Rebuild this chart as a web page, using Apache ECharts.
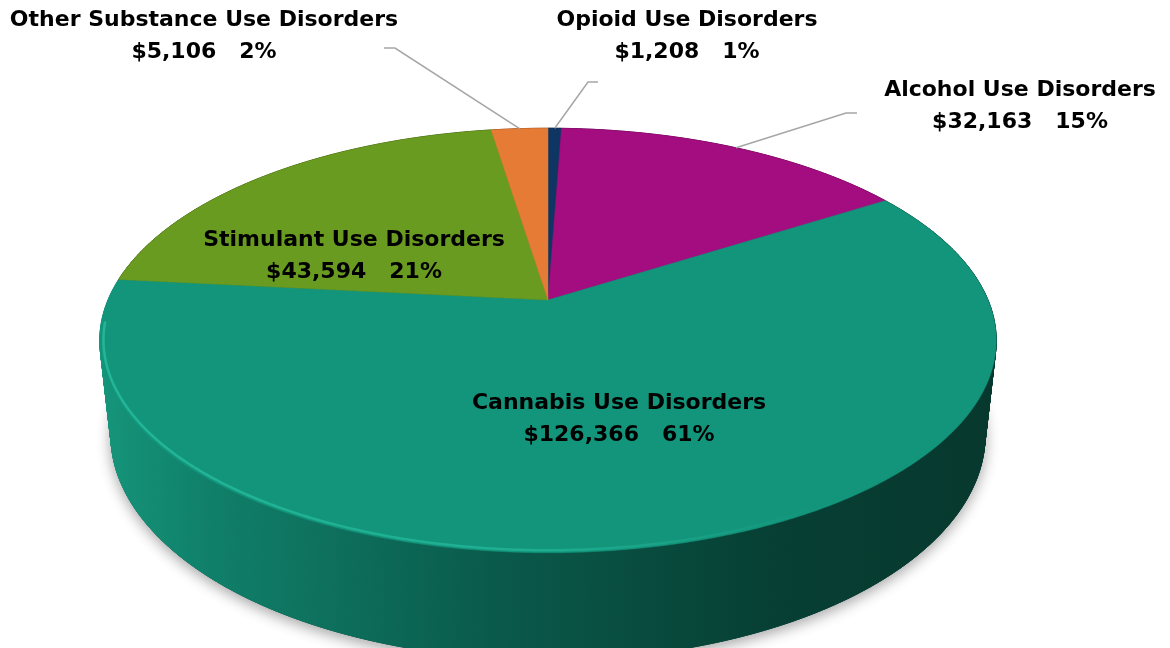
<!DOCTYPE html>
<html><head><meta charset="utf-8">
<script src="https://cdn.jsdelivr.net/npm/echarts@6/dist/echarts.min.js"></script>
<style>html,body{margin:0;padding:0;background:#fff}#main{width:1170px;height:648px}</style>
</head><body><div id="main"></div>
<script>
// ---- data ----
const categories = ['Opioid Use Disorders', 'Alcohol Use Disorders', 'Cannabis Use Disorders', 'Stimulant Use Disorders', 'Other Substance Use Disorders'];
const costs = [1208, 32163, 126366, 43594, 5106];
const percents = [1, 15, 61, 21, 2];

// ---- styles / layout ----
const topColors = ['#0f3563', '#a30d80', '#13957b', '#6a9b21', '#e57b35'];
const wallColors = ['#081d38', '#5c0748', null, '#3c5912', '#8a4519'];
const VIEW = { cx: 548, cy: 300, f: 2043, D: 4.643, tiltDeg: 27.7, thick: 0.245 };
const LABEL_LAYOUT = [
  { x: 687, y: 36, line: [[598, 82], [588, 82]] },
  { x: 1020, y: 106, line: [[857, 113], [846, 113]] },
  { x: 619, y: 419, line: null },
  { x: 354, y: 256, line: null },
  { x: 204, y: 36, line: [[384, 48], [395, 48]] }
];
const FONT = 'bold 22px "DejaVu Sans", sans-serif';

const total = costs.reduce((a, b) => a + b, 0);
const starts = [];
(function () { let acc = 0; costs.forEach(v => { starts.push(acc / total * 360); acc += v; }); })();

const S = Math.sin(VIEW.tiltDeg * Math.PI / 180), C = Math.cos(VIEW.tiltDeg * Math.PI / 180);
function project(aDeg, r, h) {
  const th = (90 - aDeg) * Math.PI / 180;
  const u = r * Math.cos(th), v = r * Math.sin(th);
  const X = u, Y = -v * S + h * C, Z = VIEW.D + v * C + h * S;
  return [VIEW.cx + VIEW.f * X / Z, VIEW.cy + VIEW.f * Y / Z];
}
function rim(a0, a1, h, r) {
  r = r || 1;
  const n = Math.max(2, Math.ceil((a1 - a0) / 0.5));
  const pts = [];
  for (let k = 0; k <= n; k++) pts.push(project(a0 + (a1 - a0) * k / n, r, h));
  return pts;
}
function fmt(v) { return '$' + v.toLocaleString('en-US'); }

const cannabisWall = new echarts.graphic.LinearGradient(98, 0, 998, 0, [
  { offset: 0, color: '#16967b' },
  { offset: 0.12, color: '#10806a' },
  { offset: 0.45, color: '#0a594a' },
  { offset: 0.75, color: '#073f34' },
  { offset: 1, color: '#07382e' }
], true);
const rimGlow = new echarts.graphic.LinearGradient(100, 0, 820, 0, [
  { offset: 0, color: 'rgba(38,190,160,0.8)' },
  { offset: 0.6, color: 'rgba(38,190,160,0.6)' },
  { offset: 1, color: 'rgba(38,190,160,0)' }
], true);

const seriesData = costs.map((v, i) => ({ name: categories[i], value: v }));

const chart = echarts.init(document.getElementById('main'), null, { renderer: 'canvas' });
chart.setOption({
  backgroundColor: '#ffffff',
  animation: false,
  series: [
    {
      type: 'custom', coordinateSystem: 'none', z: 1, silent: true,
      data: seriesData,
      renderItem: function (params, api) {
        const i = params.dataIndex;
        const a0 = starts[i], a1 = a0 + api.value(0) / total * 360;
        const top = rim(a0, a1, 0), bot = rim(a0, a1, VIEW.thick);
        const fill = i === 2 ? cannabisWall : wallColors[i];
        const children = [];
        children.push({
          type: 'polygon', z2: 0,
          shape: { points: [project(0, 0, VIEW.thick)].concat(bot) },
          style: { fill: '#0a4a3e', stroke: '#0a4a3e', lineWidth: 1, shadowBlur: 14, shadowColor: 'rgba(0,0,0,0.35)', shadowOffsetY: 4 }
        });
        for (let k = 0; k < top.length - 1; k++) {
          children.push({
            type: 'polygon', z2: 1,
            shape: { points: [top[k], top[k + 1], bot[k + 1], bot[k]] },
            style: { fill: fill, stroke: fill, lineWidth: 1 }
          });
        }
        return { type: 'group', children: children };
      }
    },
    {
      type: 'custom', coordinateSystem: 'none', z: 2, silent: true,
      data: seriesData,
      renderItem: function (params, api) {
        const i = params.dataIndex;
        const a0 = starts[i], a1 = a0 + api.value(0) / total * 360;
        const children = [];
        children.push({
          type: 'polygon', z2: 1,
          shape: { points: [project(0, 0, 0)].concat(rim(a0, a1, 0)) },
          style: { fill: topColors[i], stroke: topColors[i], lineWidth: 0.5 }
        });
        if (i === 2) {
          children.push({
            type: 'polyline', z2: 2,
            shape: { points: rim(Math.max(a0, 150), Math.min(a1, 264), 0, 0.992) },
            style: { stroke: rimGlow, lineWidth: 2.5, fill: null }
          });
        }
        return { type: 'group', children: children };
      }
    },
    {
      type: 'custom', coordinateSystem: 'none', z: 3, silent: true,
      data: seriesData,
      renderItem: function (params, api) {
        const i = params.dataIndex;
        const a0 = starts[i], a1 = a0 + api.value(0) / total * 360;
        const L = LABEL_LAYOUT[i];
        const children = [{
          type: 'text', z2: 5,
          style: {
            text: categories[i] + '\n' + fmt(costs[i]) + '   ' + percents[i] + '%',
            x: L.x, y: L.y, align: 'center', verticalAlign: 'middle',
            font: FONT, fill: '#000', lineHeight: 32
          }
        }];
        if (L.line) {
          const edge = project((a0 + a1) / 2, 1, 0);
          children.push({
            type: 'polyline', z2: 4,
            shape: { points: [L.line[0], L.line[1], edge] },
            style: { stroke: '#a6a6a6', lineWidth: 1.5, fill: null }
          });
        }
        return { type: 'group', children: children };
      }
    }
  ]
});
</script></body></html>
